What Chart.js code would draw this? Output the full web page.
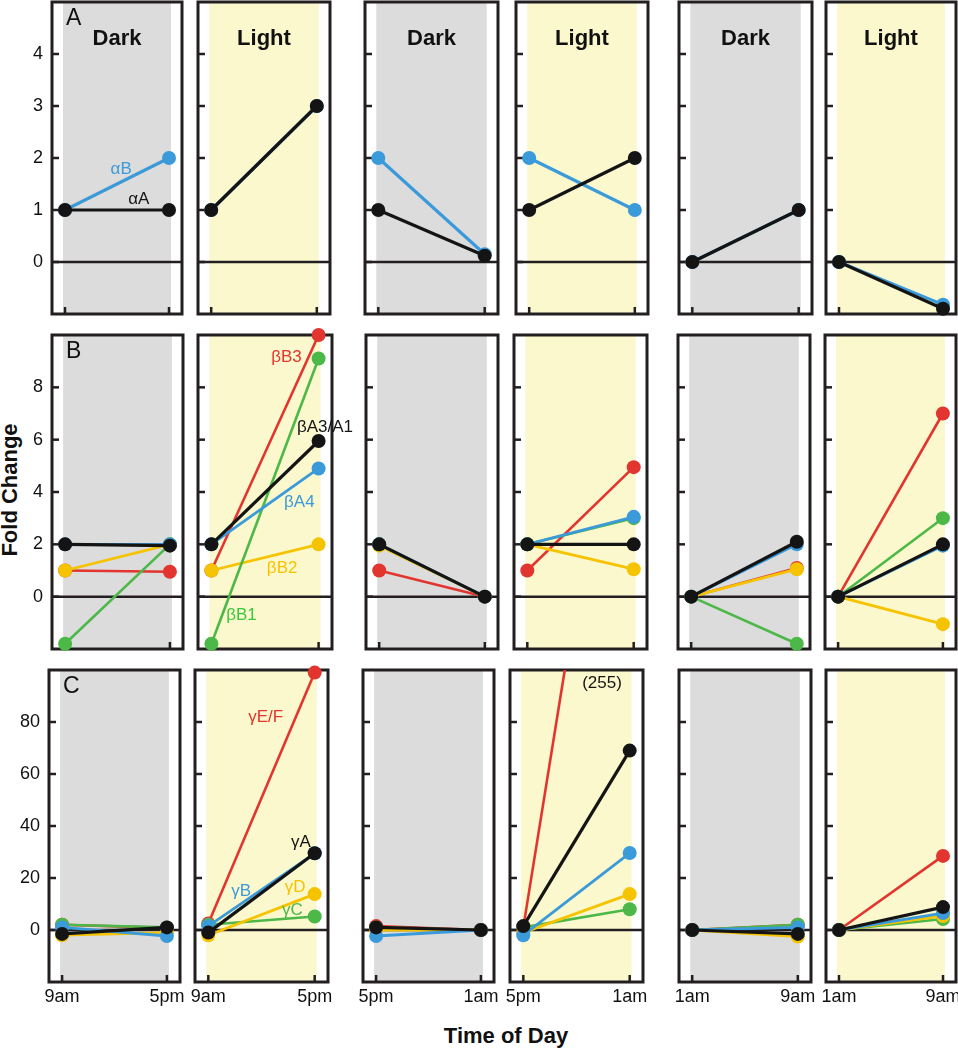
<!DOCTYPE html>
<html>
<head>
<meta charset="utf-8">
<script src="https://cdn.jsdelivr.net/npm/chart.js@4/dist/chart.umd.min.js"></script>
<style>
  body { margin: 0; background: #fff; width: 958px; height: 1050px; position: relative; overflow: hidden;
         font-family: "Liberation Sans", Arial, sans-serif; }
  canvas { position: absolute; }
  .axis-title { position: absolute; font-weight: bold; font-size: 22px; color: #111; white-space: nowrap; }
  #ytitle { left: 10px; top: 490px; transform: translate(-50%, -50%) rotate(-90deg); }
  #xtitle { left: 506px; top: 1036px; transform: translate(-50%, -50%); }
</style>
</head>
<body>
<div class="axis-title" id="ytitle">Fold Change</div>
<div class="axis-title" id="xtitle">Time of Day</div>
<script>
// the six panels: time points and light phase
var timeLabels = [['9am', '5pm'], ['9am', '5pm'], ['5pm', '1am'], ['5pm', '1am'], ['1am', '9am'], ['1am', '9am']];
var phases = ['Dark', 'Light', 'Dark', 'Light', 'Dark', 'Light'];

// A: alpha crystallins, [start, end] for each panel
var alphaA = [[1, 1], [1, 3], [1, 0.12], [1, 2], [0, 1], [0, -0.9]];
var alphaB = [[1, 2], [1, 3], [2, 0.15], [2, 1], [0, 1], [0, -0.82]];

// B: beta crystallins
var betaA3A1 = [[2, 1.95], [2, 5.95], [2, 0], [2, 2], [0, 2.1], [0, 2]];
var betaA4 = [[2, 2], [2, 4.9], [2, 0], [2, 3.05], [0, 2], [0, 1.95]];
var betaB1 = [[-1.8, 2], [-1.8, 9.1], [2, 0], [2, 3], [0, -1.8], [0, 3]];
var betaB2 = [[1, 2], [1, 2], [1.95, 0], [2, 1.05], [0, 1.05], [0, -1.05]];
var betaB3 = [[1, 0.95], [1, 10], [1, 0], [1, 4.95], [0, 1.1], [0, 7]];

// C: gamma crystallins
var gammaA = [[-1.5, 1], [-1, 29.5], [1, 0], [1.5, 69], [0, -1.5], [0, 8.8]];
var gammaB = [[1, -2.3], [1.5, 29.5], [-2.3, 0], [-2, 29.6], [0, 1], [0, 6.5]];
var gammaC = [[2, 1], [2, 5.2], [1, 0], [1, 8], [0, 2], [0, 4.2]];
var gammaD = [[-2, -1], [-2, 13.8], [0, 0], [-1, 13.8], [0, -2.5], [0, 5.4]];
var gammaEF = [[2, 0.8], [2.5, 99], [1.5, 0], [1, 255], [0, 2], [0, 28.5]];

var yTicksA = [0, 1, 2, 3, 4];
var yTicksB = [0, 2, 4, 6, 8];
var yTicksC = [0, 20, 40, 60, 80];

var BLACK = '#141414', BLUE = '#3b9ad9', RED = '#e2352f', GREEN = '#4cb848', YELLOW = '#f6c300';

var rows = [
  { letter: 'A', min: -1, max: 5, ticks: yTicksA, top: 2, bottom: 314,
    lefts: [52, 198, 365, 516, 679, 826], rights: [182, 330, 498, 648, 812, 956],
    series: [
      { name: 'αA', color: BLACK, width: 3.2, data: alphaA },
      { name: 'αB', color: BLUE, width: 3.2, data: alphaB }
    ] },
  { letter: 'B', min: -2, max: 10, ticks: yTicksB, top: 335, bottom: 649,
    lefts: [52, 198, 366, 514, 678, 825], rights: [183, 332, 498, 647, 810, 956],
    series: [
      { name: 'βA3/A1', color: BLACK, width: 3.2, data: betaA3A1 },
      { name: 'βA4', color: BLUE, width: 2.8, data: betaA4 },
      { name: 'βB1', color: GREEN, width: 2.6, data: betaB1 },
      { name: 'βB2', color: YELLOW, width: 2.8, data: betaB2 },
      { name: 'βB3', color: RED, width: 2.6, data: betaB3 }
    ] },
  { letter: 'C', min: -20, max: 100, ticks: yTicksC, top: 670, bottom: 982,
    lefts: [49, 195, 363, 510, 679, 826], rights: [180, 328, 494, 643, 811, 956],
    series: [
      { name: 'γA', color: BLACK, width: 3.2, data: gammaA },
      { name: 'γB', color: BLUE, width: 2.8, data: gammaB },
      { name: 'γD', color: YELLOW, width: 2.8, data: gammaD },
      { name: 'γC', color: GREEN, width: 2.6, data: gammaC },
      { name: 'γE/F', color: RED, width: 2.6, data: gammaEF }
    ] }
];

// in-panel labels, placed in data coordinates
var notes = {
  'A0': [{ t: 'αB', c: BLUE, x: 0.54, y: 1.79 }, { t: 'αA', c: BLACK, x: 0.71, y: 1.21 }],
  'B1': [{ t: 'βB3', c: RED, x: 0.70, y: 9.16 }, { t: 'βA3/A1', c: BLACK, x: 1.06, y: 6.48 },
         { t: 'βA4', c: BLUE, x: 0.82, y: 3.62 }, { t: 'βB2', c: YELLOW, x: 0.66, y: 1.10 },
         { t: 'βB1', c: '#3cc83c', x: 0.28, y: -0.70 }],
  'C1': [{ t: 'γE/F', c: RED, x: 0.54, y: 81.9 }, { t: 'γA', c: BLACK, x: 0.87, y: 33.8 },
         { t: 'γB', c: BLUE, x: 0.31, y: 15.0 }, { t: 'γD', c: YELLOW, x: 0.815, y: 16.5 },
         { t: 'γC', c: GREEN, x: 0.79, y: 7.7 }],
  'C3': [{ t: '(255)', c: BLACK, x: 0.74, y: 95 }]
};

var FONT = '"Liberation Sans", Arial, sans-serif';
var INK = '#231f20';

var panelDecor = {
  id: 'panelDecor',
  beforeDatasetsDraw: function(chart, args, opts) {
    var ctx = chart.ctx, a = chart.chartArea, xs = chart.scales.x, ys = chart.scales.y;
    ctx.save();
    var x0 = xs.getPixelForValue(0) - 2, x1 = xs.getPixelForValue(1) + 2;
    ctx.fillStyle = opts.band;
    ctx.fillRect(x0, a.top, x1 - x0, a.bottom - a.top);

    ctx.strokeStyle = INK;
    var y0 = ys.getPixelForValue(0);
    ctx.lineWidth = 2.5;
    ctx.beginPath(); ctx.moveTo(a.left, y0); ctx.lineTo(a.right, y0); ctx.stroke();

    ys.ticks.forEach(function(t) {
      var y = ys.getPixelForValue(t.value);
      ctx.beginPath(); ctx.moveTo(a.left, y); ctx.lineTo(a.left + 7, y); ctx.stroke();
    });
    xs.ticks.forEach(function(t) {
      var x = xs.getPixelForValue(t.value);
      ctx.beginPath(); ctx.moveTo(x, a.bottom); ctx.lineTo(x, a.bottom - 7); ctx.stroke();
    });

    ctx.lineWidth = 3;
    ctx.strokeRect(a.left, a.top, a.right - a.left, a.bottom - a.top);
    ctx.restore();
  },
  afterDatasetsDraw: function(chart, args, opts) {
    var ctx = chart.ctx, a = chart.chartArea, xs = chart.scales.x, ys = chart.scales.y;
    ctx.save();
    if (opts.header) {
      ctx.fillStyle = '#111';
      ctx.font = 'bold 22px ' + FONT;
      ctx.textAlign = 'center'; ctx.textBaseline = 'middle';
      ctx.fillText(opts.header, (a.left + a.right) / 2, a.top + 37);
    }
    if (opts.letter) {
      ctx.fillStyle = '#111';
      ctx.font = '23px ' + FONT;
      ctx.textAlign = 'left'; ctx.textBaseline = 'top';
      ctx.fillText(opts.letter, a.left + 14, a.top + 5);
    }
    (opts.notes || []).forEach(function(n) {
      ctx.fillStyle = n.c;
      ctx.font = '17px ' + FONT;
      ctx.textAlign = 'center'; ctx.textBaseline = 'middle';
      ctx.fillText(n.t, xs.getPixelForValue(n.x), ys.getPixelForValue(n.y));
    });
    ctx.restore();
  }
};

rows.forEach(function(row, r) {
  for (var p = 0; p < 6; p++) {
    var L = row.lefts[p], R = row.rights[p];
    var padL = p === 0 ? L : 12, padR = 30, padT = 26, padB = r === 2 ? 40 : 26;
    var cv = document.createElement('canvas');
    cv.width = padL + (R - L) + padR;
    cv.height = padT + (row.bottom - row.top) + padB;
    cv.style.left = (L - padL) + 'px';
    cv.style.top = (row.top - padT) + 'px';
    document.body.appendChild(cv);

    var datasets = row.series.map(function(s) {
      var pair = s.data[p];
      var over = pair[0] > row.max || pair[1] > row.max;
      return {
        label: s.name,
        data: [{ x: 0, y: pair[0] }, { x: 1, y: pair[1] }],
        borderColor: s.color,
        backgroundColor: s.color,
        borderWidth: s.width,
        pointRadius: 7,
        pointHoverRadius: 7,
        pointBorderWidth: 0,
        pointBackgroundColor: s.color,
        tension: 0,
        clip: over ? { left: 10, right: 10, top: 0, bottom: 10 } : 10
      };
    });

    (function(row, r, p, padL, padT, padB) {
      new Chart(cv.getContext('2d'), {
        type: 'line',
        data: { datasets: datasets },
        plugins: [panelDecor],
        options: {
          responsive: false,
          animation: false,
          devicePixelRatio: 1,
          events: [],
          layout: { padding: { top: padT, right: padR, left: 0, bottom: 0 } },
          plugins: {
            legend: { display: false },
            tooltip: { enabled: false },
            panelDecor: {
              band: phases[p] === 'Dark' ? '#dcdcdc' : '#fbf8cd',
              header: r === 0 ? phases[p] : null,
              letter: p === 0 ? row.letter : null,
              notes: notes[row.letter + p]
            }
          },
          scales: {
            x: {
              type: 'linear', min: -0.125, max: 1.125,
              afterBuildTicks: function(s) { s.ticks = [{ value: 0 }, { value: 1 }]; },
              afterFit: function(s) { s.height = padB; },
              grid: { display: false, drawTicks: false },
              border: { display: false },
              ticks: {
                display: r === 2, autoSkip: false, maxRotation: 0, padding: 4,
                color: '#111', font: { family: FONT, size: 18 },
                callback: function(v, i) { return timeLabels[p][i]; }
              }
            },
            y: {
              type: 'linear', min: row.min, max: row.max,
              afterBuildTicks: function(s) { s.ticks = row.ticks.map(function(v) { return { value: v }; }); },
              afterFit: function(s) { s.width = padL; },
              grid: { display: false, drawTicks: false },
              border: { display: false },
              ticks: {
                display: p === 0, padding: 9,
                color: '#111', font: { family: FONT, size: 18 }
              }
            }
          }
        }
      });
    })(row, r, p, padL, padT, padB);
  }
});
</script>
</body>
</html>
